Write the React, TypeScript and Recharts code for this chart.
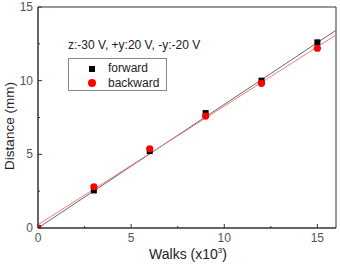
import { ScatterChart, Scatter, XAxis, YAxis, ReferenceArea } from "recharts";

// walk counts (x10^3) and measured travel distance (mm)
const walks = [0, 3, 6, 9, 12, 15];
const forward = [0, 2.55, 5.22, 7.8, 10.0, 12.6];
const backward = [0, 2.8, 5.38, 7.6, 9.82, 12.2];

// linear fit end points over the full x range
const fitX = [0, 16];
const forwardFit = [0.0, 13.42];
const backwardFit = [0.22, 13.1];

const ticks = [0, 2.5, 5, 7.5, 10, 12.5, 15];

const FONT = "'Liberation Sans', Arial, sans-serif";
const AXIS = "#333";

const toPoints = (xs: number[], ys: number[]) => xs.map((x, i) => ({ x, y: ys[i] }));

const forwardData = toPoints(walks, forward);
const backwardData = toPoints(walks, backward);
const forwardFitData = toPoints(fitX, forwardFit);
const backwardFitData = toPoints(fitX, backwardFit);

const XTick = (props: any) => {
  const { x, y, payload } = props;
  const major = payload.value % 5 === 0;
  return (
    <g>
      <line x1={x} x2={x} y1={y} y2={y - (major ? 4 : 2)} stroke={AXIS} />
      {major && (
        <text x={x} y={y + 14} textAnchor="middle" fontSize={12} fill="#555" fontFamily={FONT}>
          {payload.value}
        </text>
      )}
    </g>
  );
};

const YTick = (props: any) => {
  const { x, y, payload } = props;
  const major = payload.value % 5 === 0;
  return (
    <g>
      <line x1={x} x2={x + (major ? 4 : 2)} y1={y} y2={y} stroke={AXIS} />
      {major && (
        <text x={x - 5} y={y + 4} textAnchor="end" fontSize={12} fill="#555" fontFamily={FONT}>
          {payload.value}
        </text>
      )}
    </g>
  );
};

const Square = (p: any) => <rect x={p.cx - 3} y={p.cy - 3} width={6} height={6} fill="#000" />;
const Dot = (p: any) => <circle cx={p.cx} cy={p.cy} r={3.6} fill="#ff0000" />;
const NoMark = () => <g />;

const App = () => (
  <div style={{ position: "absolute", left: 0, top: 0, width: 340, height: 265, background: "#fff" }}>
    <ScatterChart width={340} height={265} margin={{ top: 7, right: 4, bottom: 0, left: 0 }}>
      <XAxis
        type="number"
        dataKey="x"
        domain={[0, 16]}
        ticks={ticks}
        interval={0}
        allowDataOverflow
        tickSize={0}
        tickMargin={0}
        tickLine={false}
        tick={<XTick />}
        height={37}
        stroke={AXIS}
        label={{
          content: () => (
            <text x={188} y={259} textAnchor="middle" fontSize={14} fill="#222" fontFamily={FONT}>
              Walks (x10<tspan dy={-6} fontSize={8}>3</tspan>
              <tspan dy={6}>)</tspan>
            </text>
          ),
        }}
      />
      <YAxis
        type="number"
        dataKey="y"
        domain={[0, 15]}
        ticks={ticks}
        interval={0}
        allowDataOverflow
        tickSize={0}
        tickMargin={0}
        tickLine={false}
        tick={<YTick />}
        width={38}
        stroke={AXIS}
        label={{
          content: () => (
            <text
              x={14}
              y={126}
              transform="rotate(-90 14 126)"
              textAnchor="middle"
              fontSize={13.5}
              fill="#222"
              fontFamily={FONT}
            >
              Distance (mm)
            </text>
          ),
        }}
      />
      <ReferenceArea x1={0} x2={16} y1={0} y2={15} fill="none" stroke={AXIS} strokeWidth={1} />
      <Scatter data={forwardFitData} line={{ stroke: "#666", strokeWidth: 1 }} shape={<NoMark />} isAnimationActive={false} />
      <Scatter data={backwardFitData} line={{ stroke: "#f37a7a", strokeWidth: 1 }} shape={<NoMark />} isAnimationActive={false} />
      <Scatter data={forwardData} shape={<Square />} isAnimationActive={false} />
      <Scatter data={backwardData} shape={<Dot />} isAnimationActive={false} />
    </ScatterChart>
    <div
      style={{
        position: "absolute",
        left: 68,
        top: 38,
        fontFamily: FONT,
        fontSize: 12,
        color: "#222",
        whiteSpace: "nowrap",
      }}
    >
      z:-30 V, +y:20 V, -y:-20 V
    </div>
    <div
      style={{
        position: "absolute",
        left: 68,
        top: 58,
        width: 99,
        height: 33,
        border: "1px solid #888",
        boxSizing: "border-box",
        fontFamily: FONT,
        fontSize: 12,
        color: "#222",
        background: "#fff",
      }}
    >
      <div style={{ position: "absolute", left: 20, top: 7, width: 6, height: 6, background: "#000" }} />
      <div style={{ position: "absolute", left: 39, top: 2, lineHeight: "14px" }}>forward</div>
      <div
        style={{ position: "absolute", left: 19, top: 20, width: 8, height: 8, borderRadius: 4, background: "#ff0000" }}
      />
      <div style={{ position: "absolute", left: 39, top: 17, lineHeight: "14px" }}>backward</div>
    </div>
  </div>
);

export default App;
